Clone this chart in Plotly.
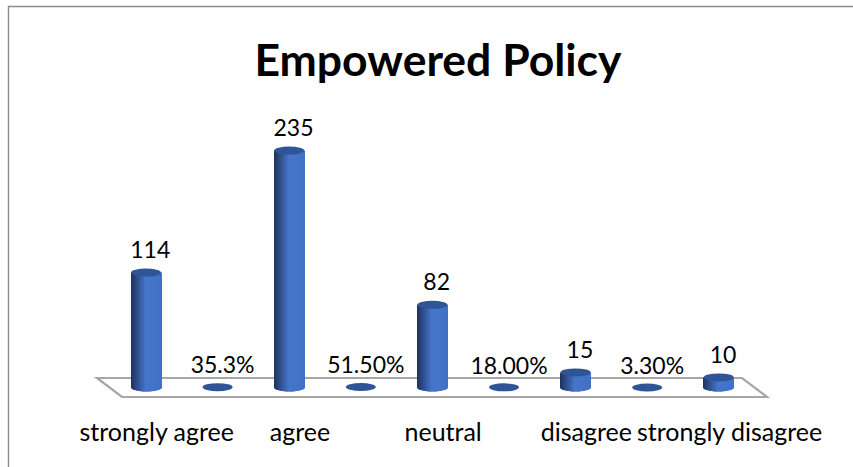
import math
import plotly.graph_objects as go

W, H = 853, 467
categories = ["strongly agree", "agree", "neutral", "disagree", "strongly disagree"]
counts = [114, 235, 82, 15, 10]
percents = [0.353, 0.515, 0.18, 0.033]
percent_labels = ["35.3%", "51.50%", "18.00%", "3.30%"]
title = "Empowered Policy"

count_x = [0, 2, 4, 6, 8]
pct_x = [1, 3, 5, 7]

# pixel <-> data mapping
PX_X0, PX_DX = 146.0, 71.6
PX_Y0, PX_DY = 387.5, 1.008
PLOT_BOTTOM = 415
x_range = [-PX_X0 / PX_DX, (W - PX_X0) / PX_DX]
y_range = [(PX_Y0 - PLOT_BOTTOM) / PX_DY, PX_Y0 / PX_DY]
FONT = "Lato, Carlito, Calibri, sans-serif"

def lerp(a, b, t):
    return tuple(a[i] + (b[i] - a[i]) * t for i in range(3))

def strip_colour(t):
    dark = (30, 50, 92)
    mid = (70, 118, 204)
    end = (66, 112, 196)
    c = lerp(dark, mid, t / 0.5) if t < 0.5 else lerp(mid, end, (t - 0.5) / 0.5)
    return "rgb(%d,%d,%d)" % c

fig = go.Figure()

BAR_W = 30 / PX_DX
CAP_H = 8 / PX_DY
N = 30
for i in range(N):
    t = (i + 0.5) / N
    sag = CAP_H / 2 * math.sqrt(max(0, 1 - (2 * t - 1) ** 2))
    fig.add_trace(go.Bar(
        x=count_x,
        y=[v + sag for v in counts],
        base=[-sag] * len(counts),
        width=BAR_W / N * 1.15,
        offset=-BAR_W / 2 + BAR_W * i / N,
        marker=dict(color=strip_colour(t), line=dict(width=0)),
        showlegend=False, hoverinfo="skip",
    ))

# data labels
fig.add_trace(go.Scatter(
    x=[x + 0.06 for x in count_x], y=[v + 9 / PX_DY for v in counts],
    text=[str(v) for v in counts], mode="text", textposition="top center",
    textfont=dict(family=FONT, size=23, color="#000000"), showlegend=False, hoverinfo="skip",
))
fig.add_trace(go.Scatter(
    x=[x + 0.07 for x in pct_x], y=[v + 8 / PX_DY for v in percents],
    text=percent_labels, mode="text", textposition="top center",
    textfont=dict(family=FONT, size=23, color="#000000"), showlegend=False, hoverinfo="skip",
))

shapes = []
def px(xp): return (xp - PX_X0) / PX_DX
def py(yp): return (PX_Y0 - yp) / PX_DY

# floor
shapes.append(dict(
    type="path", xref="x", yref="y", layer="below",
    path="M %f %f L %f %f L %f %f L %f %f Z" % (
        px(97), py(378), px(742), py(378), px(767), py(397), px(122), py(397)),
    line=dict(color="#a6a6a6", width=2.2), fillcolor="rgba(255,255,255,0)",
))
# caps
for x, v in list(zip(count_x, counts)) + list(zip(pct_x, percents)):
    shapes.append(dict(
        type="circle", xref="x", yref="y", layer="above",
        x0=x - BAR_W / 2, x1=x + BAR_W / 2, y0=v - CAP_H / 2, y1=v + CAP_H / 2,
        line=dict(width=0), fillcolor="#2f5597",
    ))
# outer border
plot_h = PLOT_BOTTOM
def pfy(yp): return 1 - yp / plot_h
shapes.append(dict(
    type="path", xref="paper", yref="paper", layer="above",
    path="M %f %f L %f %f L %f %f" % (8.5 / W, pfy(H), 8.5 / W, pfy(6.5), 1, pfy(6.5)),
    line=dict(color="#8c8c8c", width=1.4),
))

fig.update_layout(
    width=W, height=H, margin=dict(l=0, r=0, t=0, b=H - PLOT_BOTTOM, pad=0),
    paper_bgcolor="white", plot_bgcolor="white",
    barmode="overlay", shapes=shapes,
    title=dict(text="<b>%s</b>" % title, x=438 / W, xanchor="center", y=1 - 60 / H, yanchor="middle",
               font=dict(family=FONT, size=44.5, color="#000000")),
    xaxis=dict(range=x_range, showgrid=False, zeroline=False, showline=False, ticks="",
               tickmode="array", tickvals=[x + 0.15 for x in count_x], ticktext=categories,
               tickfont=dict(family=FONT, size=25, color="#000000")),
    yaxis=dict(range=y_range, visible=False),
)
fig.write_html("out.html", config={"displayModeBar": False},
               post_script="document.body.style.margin='0';document.body.style.overflow='hidden';")
